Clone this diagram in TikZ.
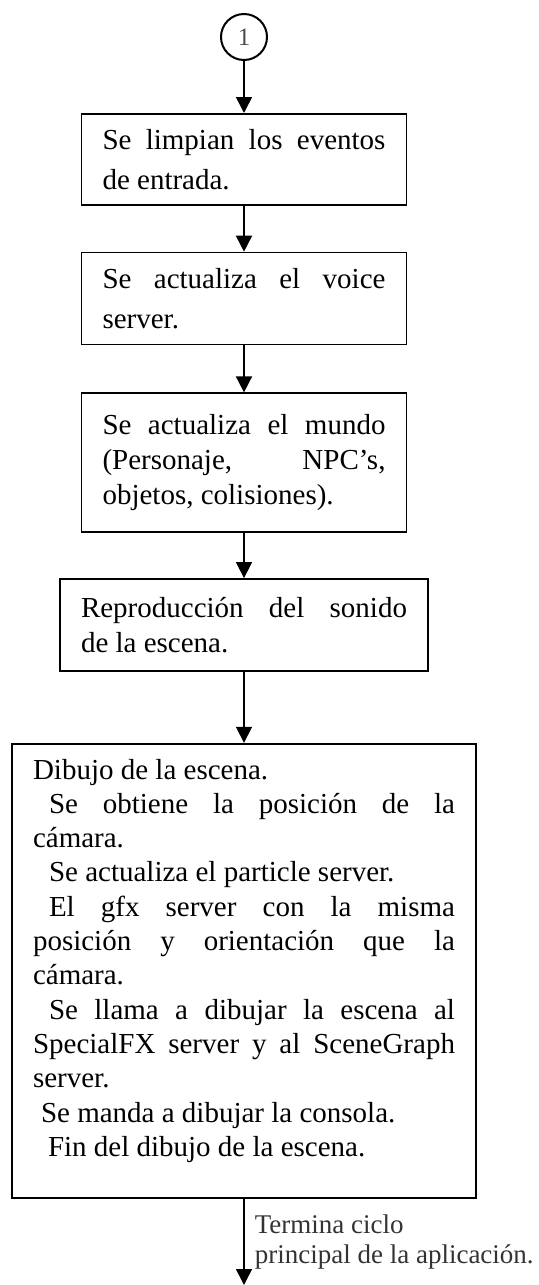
\documentclass[tikz,border=0pt]{standalone}
\usepackage{fontspec}
\setmainfont{Liberation Serif}
\usetikzlibrary{arrows.meta,positioning,shapes}
\tolerance=10000
\hbadness=10000
\hyphenpenalty=10000

\begin{document}
\begin{tikzpicture}
\tikzstyle{main}=[rectangle, draw=black, line width=0.85pt, align=justify, inner xsep=10.5pt, inner ysep=4pt, font=\fontsize{14.5}{17.5}\selectfont]
\tikzstyle{wide}=[main, font=\fontsize{14.5}{20}\selectfont]
\tikzstyle{onpage}=[circle, draw=black, line width=1pt, minimum size=23pt, inner sep=0pt, text=black!70, font=\fontsize{12.5}{14}\selectfont]
\tikzstyle{connect}=[-{Triangle[length=8pt, width=8pt]}, line width=0.8pt]
\tikzstyle{notetext}=[align=left, inner xsep=5pt, text=black!80, font=\fontsize{13.5}{15}\selectfont]

  \useasboundingbox (0,0) rectangle (269.5pt,-642.5pt);

  \node[onpage] (one) at (122pt,-18.5pt) {1};

  \node[wide, text width=141.5pt, minimum height=45.5pt] (clear) [below=26pt of one]
    {Se limpian los eventos\linebreak de entrada.};
  \node[wide, text width=141.5pt, minimum height=46pt] (voice) [below=23pt of clear]
    {Se actualiza el voice\linebreak server.};
  \node[main, text width=141.5pt, minimum height=69.5pt] (world) [below=23.5pt of voice]
    {Se actualiza el mundo\linebreak (Personaje, NPC’s,\linebreak objetos, colisiones).};
  \node[main, text width=163pt, minimum height=46pt] (sound) [below=22.5pt of world]
    {Reproducción del sonido\linebreak de la escena.};
  \node[main, text width=211pt, minimum height=227pt, font=\fontsize{14.5}{17.15}\selectfont] (scene) [below=35.5pt of sound]
    {Dibujo de la escena.\par
     \hspace*{8pt}Se obtiene la posición de la\linebreak cámara.\par
     \hspace*{8pt}Se actualiza el particle server.\par
     \hspace*{8pt}El gfx server con la misma\linebreak posición y orientación que la\linebreak cámara.\par
     \hspace*{8pt}Se llama a dibujar la escena al\linebreak SpecialFX server y al SceneGraph\linebreak server.\par
     \hspace*{4pt}Se manda a dibujar la consola.\par
     \hspace*{7.5pt}Fin del dibujo de la escena.\rule[-13pt]{0pt}{13pt}};

  \coordinate (exit) at (122pt,-642.5pt);

  \path (one) edge [connect] (clear);
  \path (clear) edge [connect] (voice);
  \path (voice) edge [connect] (world);
  \path (world) edge [connect] (sound);
  \path (sound) edge [connect] (scene);
  \path (scene) edge [connect] node [notetext, right, pos=0.5] {Termina ciclo\\principal de la aplicación.} (exit);

\end{tikzpicture}
\end{document}
